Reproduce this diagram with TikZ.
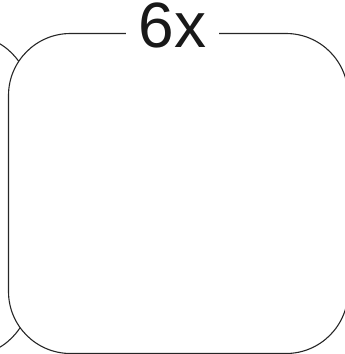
\documentclass[tikz,border=0pt]{standalone}
\usepackage{fontspec}
\setmainfont{Liberation Sans}
\begin{document}
\begin{tikzpicture}[x=1pt,y=-1pt,
  boxline/.style={draw=black!85, line width=1.1pt, rounded corners=62pt, outer sep=0pt, inner sep=0pt},
  reptext/.style={fill=white, text=black!90, inner xsep=12.5pt, inner ysep=0pt, anchor=base,
    font=\fontsize{64}{64}\selectfont}]
\useasboundingbox (0,0) rectangle (345,354);
\begin{scope}
  \clip (0,0) rectangle (345,354);
  \node[boxline, minimum width=330pt, minimum height=321pt] (prev) at (-135,195.5) {};
  \node[boxline, fill=white, minimum width=339.5pt, minimum height=320pt] (block) at (178.25,193.5) {};
  \node[reptext] (rep) at (172.5,47.5) {6x};
\end{scope}
\end{tikzpicture}
\end{document}
